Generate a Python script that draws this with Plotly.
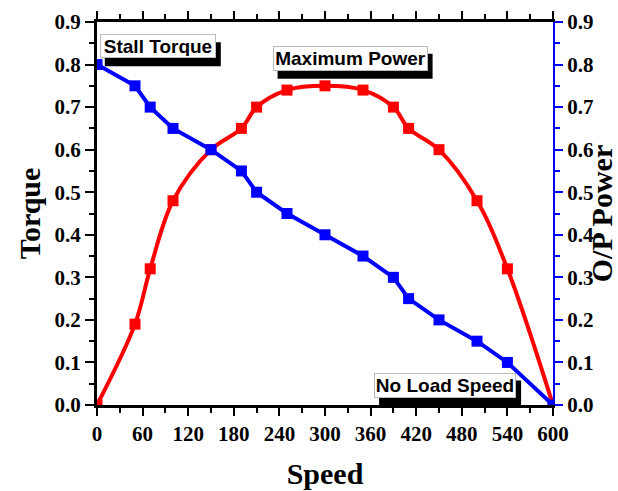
import plotly.graph_objects as go

speed = [0, 50, 70, 100, 150, 190, 210, 250, 300, 350, 390, 410, 450, 500, 540, 600]
torque = [0.80, 0.75, 0.70, 0.65, 0.60, 0.55, 0.50, 0.45, 0.40, 0.35, 0.30, 0.25, 0.20, 0.15, 0.10, 0.0]
power = [0.0, 0.19, 0.32, 0.48, 0.60, 0.65, 0.70, 0.74, 0.75, 0.74, 0.70, 0.65, 0.60, 0.48, 0.32, 0.0]
x_ticks = [0, 60, 120, 180, 240, 300, 360, 420, 480, 540, 600]
y_ticks = [0.0, 0.1, 0.2, 0.3, 0.4, 0.5, 0.6, 0.7, 0.8, 0.9]

ann_text = ["Stall Torque", "Maximum Power", "No Load Speed"]
ann_x = [80, 333, 458]
ann_y = [0.843, 0.815, 0.047]

# styling (box sizes in px for the drop shadows)
box_w = [116, 155, 142]
box_h = [24, 25, 25]
shadow_dx, shadow_dy = 5, 8

fig = go.Figure()
fig.add_trace(go.Scatter(
    x=speed, y=power, mode="lines+markers",
    line=dict(color="#ff0000", width=4, shape="spline", smoothing=1.0),
    marker=dict(symbol="square", size=11, color="#ff0000"),
    yaxis="y", showlegend=False))
fig.add_trace(go.Scatter(
    x=speed, y=torque, mode="lines+markers",
    line=dict(color="#0000ff", width=4),
    marker=dict(symbol="square", size=11, color="#0000ff"),
    yaxis="y2", showlegend=False))

tickfont = dict(family="Liberation Serif", size=21, color="black", weight="bold")
titlefont = dict(family="Liberation Serif", size=30, color="black", weight="bold")

fig.update_layout(
    width=618, height=491,
    margin=dict(l=97, r=65, t=22, b=86),
    paper_bgcolor="white", plot_bgcolor="white",
    xaxis=dict(range=[0, 600], tickvals=x_ticks, ticktext=[str(v) for v in x_ticks],
               showgrid=False, zeroline=False, automargin=False,
               showline=True, linecolor="black", linewidth=3, mirror="ticks",
               ticks="outside", ticklen=8, tickwidth=2, tickcolor="black",
               minor=dict(dtick=30, ticklen=5, tickwidth=2, tickcolor="black", ticks="outside"),
               tickfont=tickfont,
               title=dict(text="Speed", font=titlefont, standoff=18)),
    yaxis=dict(range=[0, 0.9], tickvals=y_ticks, ticktext=["%.1f" % v for v in y_ticks],
               showgrid=False, zeroline=False, automargin=False,
               showline=True, linecolor="black", linewidth=3,
               ticks="outside", ticklen=9, tickwidth=2, tickcolor="black",
               minor=dict(dtick=0.05, ticklen=5, tickwidth=2, tickcolor="black", ticks="outside"),
               tickfont=tickfont,
               title=dict(text="Torque", font=titlefont, standoff=6)),
    yaxis2=dict(range=[0, 0.9], tickvals=y_ticks, ticktext=["%.1f" % v for v in y_ticks],
                overlaying="y", side="right", automargin=False,
                showgrid=False, zeroline=False,
                showline=True, linecolor="#0000ff", linewidth=2,
                ticks="outside", ticklen=8, tickwidth=2, tickcolor="#0000ff",
                minor=dict(dtick=0.05, ticklen=5, tickwidth=2, tickcolor="#0000ff", ticks="outside"),
                tickfont=tickfont,
                title=dict(text="O/P Power", font=titlefont, standoff=2)),
)

annfont = dict(family="Liberation Sans", size=19, color="black", weight="bold")
for t, ax, ay, w, h in zip(ann_text, ann_x, ann_y, box_w, box_h):
    fig.add_shape(type="rect", xref="x", yref="y",
                  xsizemode="pixel", ysizemode="pixel", xanchor=ax, yanchor=ay,
                  x0=-w / 2 + shadow_dx, x1=w / 2 + shadow_dx,
                  y0=-h / 2 - shadow_dy, y1=h / 2 - shadow_dy,
                  fillcolor="black", line=dict(width=0), layer="above")
    fig.add_annotation(x=ax, y=ay, xref="x", yref="y", text=t, showarrow=False,
                       font=annfont, bgcolor="white", bordercolor="#bbbbbb",
                       borderwidth=1, borderpad=1, width=w - 4, height=h - 4)

fig.write_html("out.html", config={"displayModeBar": False},
               post_script="document.body.style.margin='0px';document.body.style.overflow='hidden';")
